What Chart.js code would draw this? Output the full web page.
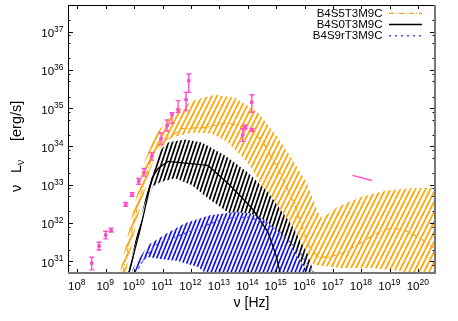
<!DOCTYPE html>
<html><head><meta charset="utf-8">
<script src="https://cdn.jsdelivr.net/npm/chart.js@4/dist/chart.umd.min.js"></script>
<style>html,body{margin:0;padding:0;background:#fff}#wrap{width:458px;height:321px;position:relative}canvas{display:block}</style>
</head><body><div id="wrap"><canvas id="c" width="458" height="321"></canvas></div>
<script>
// ---- data (log10 values) ----
const seriesNames = ['B4S5T3M9C', 'B4S0T3M9C', 'B4S9rT3M9C'];

// B4S5T3M9C (orange) band: upper edge left->right, lower edge right->left
const orangeUpperNu = [9.397, 9.507, 9.890, 10.382, 10.769, 11.332, 12.036, 12.845, 13.549, 14.358, 15.062, 15.590, 16.082, 16.469, 16.610, 17.138, 17.947, 18.897, 19.707, 20.657];
const orangeUpperL  = [30.244, 30.713, 32.067, 33.631, 34.334, 34.804, 35.194, 35.351, 35.273, 34.882, 34.230, 33.631, 33.032, 32.276, 32.120, 32.406, 32.666, 32.850, 32.901, 32.927];
const orangeLowerNu = [20.657, 20.059, 19.355, 18.300, 17.244, 16.364, 15.941, 15.484, 14.780, 14.077, 13.654, 13.302, 12.739, 12.036, 11.332, 11.086, 10.840, 10.558, 10.101, 9.714, 9.573];
const orangeLowerL  = [30.556, 30.634, 30.739, 30.817, 30.817, 30.895, 31.103, 31.547, 32.589, 33.501, 33.839, 34.100, 34.334, 34.360, 34.230, 34.074, 33.892, 33.371, 32.067, 30.713, 30.244];
const orangeMidNu = [9.608, 9.995, 10.488, 10.734, 10.980, 11.684, 12.493, 13.302, 14.006, 14.498, 15.062, 15.660, 16.118, 16.469, 16.892, 17.420, 17.947, 18.475, 19.003, 19.531, 20.059, 20.657];
const orangeMidL  = [30.713, 32.067, 33.423, 33.892, 34.100, 34.465, 34.491, 34.621, 34.465, 34.152, 33.423, 32.459, 31.416, 31.103, 31.103, 31.234, 31.468, 31.703, 31.859, 31.807, 31.599, 31.286];

// B4S0T3M9C (black) band
const blackUpperNu = [9.643, 9.784, 10.382, 10.628, 10.910, 11.191, 11.790, 12.388, 13.197, 14.006, 14.710, 15.554, 16.118, 16.469];
const blackUpperL  = [30.374, 30.713, 32.589, 33.318, 33.892, 34.100, 34.178, 34.100, 33.761, 33.318, 32.797, 31.937, 31.156, 30.374];
const blackLowerNu = [15.484, 14.851, 14.077, 13.197, 12.598, 12.036, 11.438, 10.910, 10.664, 10.417, 10.136, 9.854, 9.749];
const blackLowerL  = [30.374, 31.286, 31.937, 32.328, 32.641, 32.980, 33.162, 33.058, 32.954, 32.459, 31.547, 30.713, 30.374];
const blackMidNu = [9.714, 9.819, 10.206, 10.628, 10.840, 11.191, 12.598, 13.373, 14.147, 14.710, 14.992, 15.132, 15.203];
const blackMidL  = [30.374, 30.713, 31.807, 33.162, 33.423, 33.605, 33.501, 32.980, 32.380, 31.755, 31.156, 30.713, 30.374];

// B4S9rT3M9C (blue) band
const blueUpperNu = [9.819, 9.960, 10.488, 11.156, 11.790, 12.669, 13.549, 14.077, 14.605, 15.132, 15.554, 16.012, 16.188];
const blueUpperL  = [30.374, 30.817, 31.416, 31.729, 31.990, 32.198, 32.276, 32.250, 32.068, 31.729, 31.338, 30.817, 30.374];
const blueLowerNu = [13.021, 12.247, 11.543, 10.910, 10.488, 10.206, 10.030, 9.925];
const blueLowerL  = [30.374, 30.843, 30.999, 31.051, 31.103, 30.947, 30.660, 30.374];
const blueMidNu = [9.995, 10.206, 10.734, 11.438, 12.247, 13.197, 14.006, 14.605, 15.203, 15.906, 16.258, 16.364];
const blueMidL  = [30.504, 30.895, 31.416, 31.624, 31.859, 32.120, 32.146, 32.016, 31.729, 31.156, 30.713, 30.374];

// observed points with error bars
const obsNu   = [8.507, 8.764, 9.000, 9.187, 9.704, 9.926, 10.162, 10.349, 10.620, 10.947, 11.158, 11.330, 11.546, 11.827, 11.923, 14.141, 13.824, 13.905, 14.151];
const obsL    = [30.943, 31.393, 31.680, 31.810, 32.479, 32.740, 33.086, 33.320, 33.737, 34.198, 34.544, 34.830, 34.961, 35.221, 35.716, 35.151, 34.302, 34.500, 34.432];
const obsLlo  = [30.770, 31.290, 31.580, 31.760, 32.430, 32.690, 33.010, 33.220, 33.640, 34.050, 34.400, 34.600, 34.890, 34.935, 35.410, 34.890, 34.130, 34.450, 34.390];
const obsLhi  = [31.100, 31.490, 31.780, 31.860, 32.530, 32.790, 33.160, 33.420, 33.840, 34.350, 34.690, 34.880, 35.196, 35.410, 35.890, 35.350, 34.460, 34.550, 34.470];
// X-ray spectrum segment
const xrayNu = [17.683, 18.366];
const xrayL  = [33.240, 33.104];

// axis ticks
const xTickExp = [8, 9, 10, 11, 12, 13, 14, 15, 16, 17, 18, 19, 20];
const yTickExp = [31, 32, 33, 34, 35, 36, 37];
const yMinorMult = [2, 5, 8];
const X_LOG_MIN = 7.673, X_LOG_MAX = 20.588, Y_LOG_MIN = 30.687, Y_LOG_MAX = 37.696;

// ---- helpers ----
const pts = (nu, L) => nu.map((n, i) => ({x: Math.pow(10, n), y: Math.pow(10, L[i])}));
const poly = (nuU, LU, nuL, LL) => pts(nuU, LU).concat(pts(nuL, LL));

function hatch(color, w, h, lw) {
  const c = document.createElement('canvas'); c.width = w; c.height = h;
  const g = c.getContext('2d');
  g.fillStyle = '#fff'; g.fillRect(0, 0, w, h);
  g.strokeStyle = color; g.lineWidth = lw;
  for (let k = -1; k <= 1; k++) { g.beginPath(); g.moveTo(k * w, h); g.lineTo(k * w + w, 0); g.stroke(); }
  return g.createPattern(c, 'repeat');
}
const ORANGE = '#ffa500', BLACK = '#000000', BLUE = '#1010e8', PINK = '#ff4fc8';
const FONT = '"Liberation Sans", Arial, Helvetica, sans-serif';

const bandBase = {type: 'line', fill: 'shape', borderWidth: 0, pointRadius: 0, tension: 0};
const lineBase = {type: 'line', fill: false, pointRadius: 0, tension: 0};

const errPlugin = {
  id: 'errbars',
  afterDatasetsDraw(chart) {
    const {ctx, scales: {x, y}, chartArea: a} = chart;
    ctx.save();
    ctx.beginPath(); ctx.rect(a.left, a.top, a.right - a.left, a.bottom - a.top); ctx.clip();
    ctx.strokeStyle = PINK; ctx.lineWidth = 1.4;
    obsNu.forEach((n, i) => {
      const px = x.getPixelForValue(Math.pow(10, n));
      const y1 = y.getPixelForValue(Math.pow(10, obsLlo[i]));
      const y2 = y.getPixelForValue(Math.pow(10, obsLhi[i]));
      ctx.beginPath();
      ctx.moveTo(px, y1); ctx.lineTo(px, y2);
      ctx.moveTo(px - 2.5, y1); ctx.lineTo(px + 2.5, y1);
      ctx.moveTo(px - 2.5, y2); ctx.lineTo(px + 2.5, y2);
      ctx.stroke();
    });
    ctx.restore();
  }
};

function supLabel(ctx, base, exp, xRight, yBase, align) {
  ctx.font = '11.5px ' + FONT;
  const wb = ctx.measureText(base).width;
  ctx.font = '8.5px ' + FONT;
  const we = ctx.measureText(exp).width;
  let x0 = align === 'right' ? xRight - wb - we : xRight - (wb + we) / 2;
  ctx.textAlign = 'left'; ctx.textBaseline = 'alphabetic';
  ctx.font = '11.5px ' + FONT; ctx.fillText(base, x0, yBase);
  ctx.font = '8.5px ' + FONT; ctx.fillText(exp, x0 + wb, yBase - 5.5);
}

const framePlugin = {
  id: 'frame',
  afterDraw(chart) {
    const {ctx, chartArea: a, scales: {x, y}} = chart;
    ctx.save();
    ctx.fillStyle = '#000';
    // ticks
    ctx.strokeStyle = '#000'; ctx.lineWidth = 1;
    ctx.beginPath();
    xTickExp.forEach(e => {
      const px = Math.round(x.getPixelForValue(Math.pow(10, e))) + 0.5;
      ctx.moveTo(px, a.bottom); ctx.lineTo(px, a.bottom - 4);
      ctx.moveTo(px, a.top); ctx.lineTo(px, a.top + 4);
    });
    yTickExp.concat([30]).forEach(e => {
      const py = Math.round(y.getPixelForValue(Math.pow(10, e))) + 0.5;
      if (py > a.top && py < a.bottom) {
        ctx.moveTo(a.left, py); ctx.lineTo(a.left + 5, py);
        ctx.moveTo(a.right, py); ctx.lineTo(a.right - 5, py);
      }
      yMinorMult.forEach(m => {
        const v = Math.pow(10, e) * m;
        const q = Math.round(y.getPixelForValue(v)) + 0.5;
        if (q > a.top && q < a.bottom) {
          ctx.moveTo(a.left, q); ctx.lineTo(a.left + 2.5, q);
          ctx.moveTo(a.right, q); ctx.lineTo(a.right - 2.5, q);
        }
      });
    });
    ctx.stroke();
    // border
    ctx.beginPath();
    ctx.moveTo(a.left + 0.5, a.bottom); ctx.lineTo(a.left + 0.5, a.top + 0.5); ctx.lineTo(a.right, a.top + 0.5);
    ctx.stroke();
    ctx.strokeStyle = '#777'; ctx.lineWidth = 2;
    ctx.beginPath();
    ctx.moveTo(a.left, a.bottom); ctx.lineTo(a.right, a.bottom); ctx.lineTo(a.right, a.top);
    ctx.stroke();
    // tick labels
    xTickExp.forEach(e => {
      supLabel(ctx, '10', String(e), x.getPixelForValue(Math.pow(10, e)) - 0.5, 290, 'center');
    });
    yTickExp.forEach(e => {
      const py = y.getPixelForValue(Math.pow(10, e));
      supLabel(ctx, '10', String(e), 63.5, py + 5.5, 'right');
    });
    // axis titles
    ctx.font = '14px ' + FONT; ctx.textAlign = 'center'; ctx.textBaseline = 'alphabetic';
    ctx.fillText('\u03bd [Hz]', (a.left + a.right) / 2, 306.5);
    ctx.save();
    ctx.translate(21, 192); ctx.rotate(-Math.PI / 2);
    ctx.textAlign = 'left';
    ctx.font = '14.5px ' + FONT;
    ctx.fillText('\u03bd', 0, 0);
    ctx.fillText('L', 19, 0);
    const wL = ctx.measureText('L').width;
    ctx.font = '10.5px ' + FONT;
    ctx.fillText('\u03bd', 19 + wL, 3);
    ctx.font = '14.5px ' + FONT;
    ctx.fillText('[erg/s]', 51, 0);
    ctx.restore();
    // legend
    const rowsY = [13.3, 24.5, 35.7];
    const styles = [
      {c: '#f5a623', dash: [5, 2, 1, 2], w: 1.2},
      {c: BLACK, dash: [], w: 1.3},
      {c: '#4a4aff', dash: [2, 4], w: 1.5}
    ];
    seriesNames.forEach((s, i) => {
      ctx.font = '11.5px ' + FONT; ctx.textAlign = 'right'; ctx.textBaseline = 'middle';
      ctx.fillStyle = '#000';
      ctx.fillText(s, 382.5, rowsY[i] + 0.5);
      ctx.strokeStyle = styles[i].c; ctx.lineWidth = styles[i].w; ctx.setLineDash(styles[i].dash);
      ctx.beginPath(); ctx.moveTo(389, rowsY[i]); ctx.lineTo(422, rowsY[i]); ctx.stroke();
    });
    ctx.setLineDash([]);
    ctx.restore();
  }
};

new Chart(document.getElementById('c'), {
  type: 'line',
  data: {
    datasets: [
      Object.assign({}, bandBase, {label: seriesNames[0] + ' range', data: poly(orangeUpperNu, orangeUpperL, orangeLowerNu, orangeLowerL), backgroundColor: hatch(ORANGE, 5, 10, 1.7), borderColor: 'rgba(0,0,0,0)', order: 10}),
      Object.assign({}, bandBase, {label: seriesNames[1] + ' range', data: poly(blackUpperNu, blackUpperL, blackLowerNu, blackLowerL), backgroundColor: hatch(BLACK, 4, 12, 1.7), borderColor: 'rgba(0,0,0,0)', order: 9}),
      Object.assign({}, bandBase, {label: seriesNames[2] + ' range', data: poly(blueUpperNu, blueUpperL, blueLowerNu, blueLowerL), backgroundColor: hatch(BLUE, 4, 10, 1.7), borderColor: 'rgba(0,0,0,0)', order: 8}),
      Object.assign({}, lineBase, {label: seriesNames[0], data: pts(orangeMidNu, orangeMidL), borderColor: '#f5a623', borderWidth: 1.2, borderDash: [5, 2, 1, 2], order: 5}),
      Object.assign({}, lineBase, {label: seriesNames[1], data: pts(blackMidNu, blackMidL), borderColor: BLACK, borderWidth: 1.3, order: 4}),
      Object.assign({}, lineBase, {label: seriesNames[2], data: pts(blueMidNu, blueMidL), borderColor: '#4a4aff', borderWidth: 1.2, borderDash: [3, 3], order: 3}),
      Object.assign({}, lineBase, {label: 'X-ray', data: pts(xrayNu, xrayL), borderColor: PINK, borderWidth: 1.5, order: 2}),
      {type: 'scatter', label: 'data', data: pts(obsNu, obsL), pointStyle: 'rect', pointRadius: 1.8, backgroundColor: PINK, borderColor: PINK, borderWidth: 1, order: 1}
    ]
  },
  options: {
    responsive: false, devicePixelRatio: 1, animation: false,
    layout: {padding: {left: 68, top: 4, right: 23, bottom: 48}},
    plugins: {legend: {display: false}, tooltip: {enabled: false}},
    scales: {
      x: {type: 'logarithmic', display: false, min: Math.pow(10, X_LOG_MIN), max: Math.pow(10, X_LOG_MAX)},
      y: {type: 'logarithmic', display: false, min: Math.pow(10, Y_LOG_MIN), max: Math.pow(10, Y_LOG_MAX)}
    }
  },
  plugins: [errPlugin, framePlugin]
});
</script></body></html>
